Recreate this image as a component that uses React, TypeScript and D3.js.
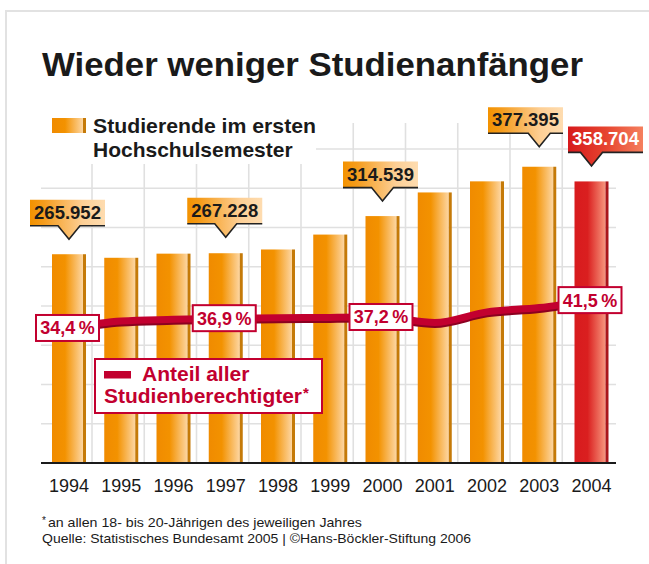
import React from 'react';
import * as d3 from 'd3';

// ---- data ----
const years = ['1994', '1995', '1996', '1997', '1998', '1999', '2000', '2001', '2002', '2003', '2004'];
const studentCounts = [265952, 261427, 266687, 267228, 271999, 290983, 314539, 344659, 358792, 377395, 358704];
const shareValues = [34.4, 36.2, 36.6, 36.9, 37.0, 37.1, 37.2, 35.8, 38.5, 39.6, 41.5];
const countLabelYears = ['1994', '1997', '2000', '2003', '2004'];
const shareLabelYears = ['1994', '1997', '2000', '2004'];
const countTicks = [50000, 100000, 150000, 200000, 250000, 300000, 350000, 400000];
const highlightYear = '2004';

const titleText = 'Wieder weniger Studienanfänger';
const barLegendLines = ['Studierende im ersten', 'Hochschulsemester'];
const lineLegendLines = ['Anteil aller', 'Studienberechtigter'];
const footnote = 'an allen 18- bis 20-Jährigen des jeweiligen Jahres';
const sourceText = 'Quelle: Statistisches Bundesamt 2005 | ©Hans-Böckler-Stiftung 2006';

// ---- layout (annotation placement) ----
const countLabelLayout: Record<string, { dx: number; gap: number }> = {
  '1994': { dx: -1.5, gap: 15 },
  '1997': { dx: -1, gap: 16 },
  '2000': { dx: -2, gap: 15 },
  '2003': { dx: -13.75, gap: 20 },
  '2004': { dx: 14, gap: 15.5 },
};

const W = 649;
const H = 564;
const CRIMSON = '#c2002f';

const de = d3.formatLocale({ decimal: ',', thousands: '.', grouping: [3], currency: ['', ' €'] });
const fmtCount = de.format(',d');
const fmtShare = de.format('.1f');

export default function App() {
  const x = d3.scalePoint<string>().domain(years).range([69, 591.5]);
  const yCount = d3.scaleLinear().domain([0, 400000]).range([463, 149]);
  const yShare = d3.scaleLinear().domain([0, 80]).range([463, 149]);

  const barW = 34;
  const edgeW = 3;

  const lineGen = d3
    .line<number>()
    .x((_, i) => x(years[i]) as number)
    .y((d) => yShare(d))
    .curve(d3.curveMonotoneX);
  const linePath = lineGen(shareValues) || '';

  const gridXs = years.slice(0, -1).map((yr) => (x(yr) as number) + 23);

  return (
    <svg
      width={W}
      height={H}
      viewBox={`0 0 ${W} ${H}`}
      style={{ position: 'absolute', left: 0, top: 0, background: '#fff' }}
      fontFamily="'Liberation Sans', Arial, Helvetica, sans-serif"
    >
      <defs>
        <linearGradient id="barGrad" x1="0" x2="1" y1="0" y2="0">
          <stop offset="0" stopColor="#f08b00" />
          <stop offset="0.42" stopColor="#f39200" />
          <stop offset="1" stopColor="#fdd6a2" />
        </linearGradient>
        <linearGradient id="barGradRed" x1="0" x2="1" y1="0" y2="0">
          <stop offset="0" stopColor="#d81b1e" />
          <stop offset="0.42" stopColor="#da1f1f" />
          <stop offset="1" stopColor="#f7957c" />
        </linearGradient>
        <linearGradient id="boxGrad" x1="0" x2="1" y1="0" y2="0">
          <stop offset="0" stopColor="#f39200" />
          <stop offset="0.18" stopColor="#f59c1c" />
          <stop offset="0.7" stopColor="#fdcf95" />
          <stop offset="1" stopColor="#fedcb0" />
        </linearGradient>
        <linearGradient id="boxGradRed" x1="0" x2="1" y1="0" y2="0">
          <stop offset="0" stopColor="#d7191c" />
          <stop offset="0.5" stopColor="#e6442f" />
          <stop offset="1" stopColor="#f5805e" />
        </linearGradient>
      </defs>

      <rect x={0} y={0} width={W} height={H} fill="#fff" />

      {/* frame */}
      <line x1={5} x2={W} y1={11} y2={11} stroke="#e2e2e2" strokeWidth={2} />
      <line x1={6} x2={6} y1={10} y2={H} stroke="#e2e2e2" strokeWidth={2} />

      {/* title */}
      <text x={42} y={76} fontSize={33} fontWeight="bold" fill="#1a1a1a" textLength={541} lengthAdjust="spacingAndGlyphs">
        {titleText}
      </text>

      {/* grid */}
      {countTicks.map((t) => (
        <line key={'h' + t} x1={41} x2={616} y1={yCount(t)} y2={yCount(t)} stroke="#e0e0e0" strokeWidth={1.6} />
      ))}
      {gridXs.map((gx, i) => (
        <line key={'v' + i} x1={gx} x2={gx} y1={123} y2={463} stroke="#e0e0e0" strokeWidth={1.6} />
      ))}

      {/* legend backdrop */}
      <rect x={38} y={100} width={278} height={64} fill="#fff" />

      {/* bars */}
      {years.map((yr, i) => {
        const cx = x(yr) as number;
        const top = yCount(studentCounts[i]);
        const h = yCount(0) - top;
        const red = yr === highlightYear;
        return (
          <g key={'b' + yr}>
            <rect x={cx - barW / 2} y={top} width={barW - edgeW} height={h} fill={red ? 'url(#barGradRed)' : 'url(#barGrad)'} />
            <rect x={cx + barW / 2 - edgeW} y={top} width={edgeW} height={h} fill={red ? '#a9151a' : '#c57a08'} />
          </g>
        );
      })}

      {/* baseline */}
      <line x1={41} x2={616} y1={463} y2={463} stroke="#1a1a1a" strokeWidth={2} />

      {/* share line */}
      <path d={linePath} fill="none" stroke="#8c0020" strokeWidth={7} transform="translate(0,2)" strokeLinejoin="round" />
      <path d={linePath} fill="none" stroke={CRIMSON} strokeWidth={7} strokeLinejoin="round" />

      {/* share labels */}
      {shareLabelYears.map((yr) => {
        const i = years.indexOf(yr);
        const cx = (x(yr) as number) - 1.5;
        const cy = yShare(shareValues[i]);
        return (
          <g key={'s' + yr}>
            <rect x={cx - 31.5} y={cy - 13} width={63} height={26} fill="#fff" stroke={CRIMSON} strokeWidth={2} />
            <text x={cx} y={cy + 6.5} textAnchor="middle" fontSize={18} fontWeight="bold" fill={CRIMSON}>
              {fmtShare(shareValues[i]) + '\u2009%'}
            </text>
          </g>
        );
      })}

      {/* count labels */}
      {countLabelYears.map((yr) => {
        const i = years.indexOf(yr);
        const lay = countLabelLayout[yr];
        const tipX = x(yr) as number;
        const tipY = yCount(studentCounts[i]) - lay.gap;
        const bottom = tipY - 13.5;
        const left = tipX - 37.5 + lay.dx;
        const bw = 75;
        const bh = 26;
        const red = yr === highlightYear;
        const fill = red ? 'url(#boxGradRed)' : 'url(#boxGrad)';
        const shape = `M${left},${bottom - bh} H${left + bw} V${bottom} H${tipX + 11} L${tipX},${tipY} L${tipX - 11},${bottom} H${left} Z`;
        const outline = `M${left},${bottom} H${tipX - 11} L${tipX},${tipY} L${tipX + 11},${bottom} H${left + bw}`;
        return (
          <g key={'c' + yr}>
            <path d={shape} fill={fill} />
            <path d={outline} fill="none" stroke="#222" strokeWidth={1.6} />
            <text x={left + bw / 2} y={bottom - 7} textAnchor="middle" fontSize={18.5} fontWeight="bold" fill={red ? '#fff' : '#1a1a1a'}>
              {fmtCount(studentCounts[i])}
            </text>
          </g>
        );
      })}

      {/* bar legend */}
      <rect x={52} y={118} width={31} height={15} fill="url(#barGrad)" />
      <rect x={83} y={118} width={3} height={15} fill="#c57a08" />
      <text x={93} y={133} fontSize={21} fontWeight="bold" fill="#1a1a1a" textLength={223} lengthAdjust="spacingAndGlyphs">
        {barLegendLines[0]}
      </text>
      <text x={93} y={157} fontSize={21} fontWeight="bold" fill="#1a1a1a">
        {barLegendLines[1]}
      </text>

      {/* line legend */}
      <rect x={95} y={359} width={227} height={54} fill="#fff" stroke={CRIMSON} strokeWidth={2} />
      <rect x={104} y={371} width={27} height={7.5} fill={CRIMSON} />
      <text x={142} y={381} fontSize={21} fontWeight="bold" fill={CRIMSON}>
        {lineLegendLines[0]}
      </text>
      <text x={104} y={403} fontSize={21} fontWeight="bold" fill={CRIMSON}>
        <tspan textLength={198} lengthAdjust="spacingAndGlyphs">{lineLegendLines[1]}</tspan>
        <tspan fontSize={15} dy={-5} dx={1}>*</tspan>
      </text>

      {/* x axis labels */}
      {years.map((yr) => (
        <text key={'x' + yr} x={x(yr) as number} y={492} textAnchor="middle" fontSize={18} fill="#1a1a1a">
          {yr}
        </text>
      ))}

      {/* footnotes */}
      <text x={42} y={527} fontSize={13} fill="#1a1a1a">
        <tspan fontSize={10} dy={-3}>*</tspan>
        <tspan dy={3} dx={2} textLength={314} lengthAdjust="spacingAndGlyphs">{footnote}</tspan>
      </text>
      <text x={42} y={542.5} fontSize={13} fill="#1a1a1a" textLength={429} lengthAdjust="spacingAndGlyphs">
        {sourceText}
      </text>
    </svg>
  );
}
